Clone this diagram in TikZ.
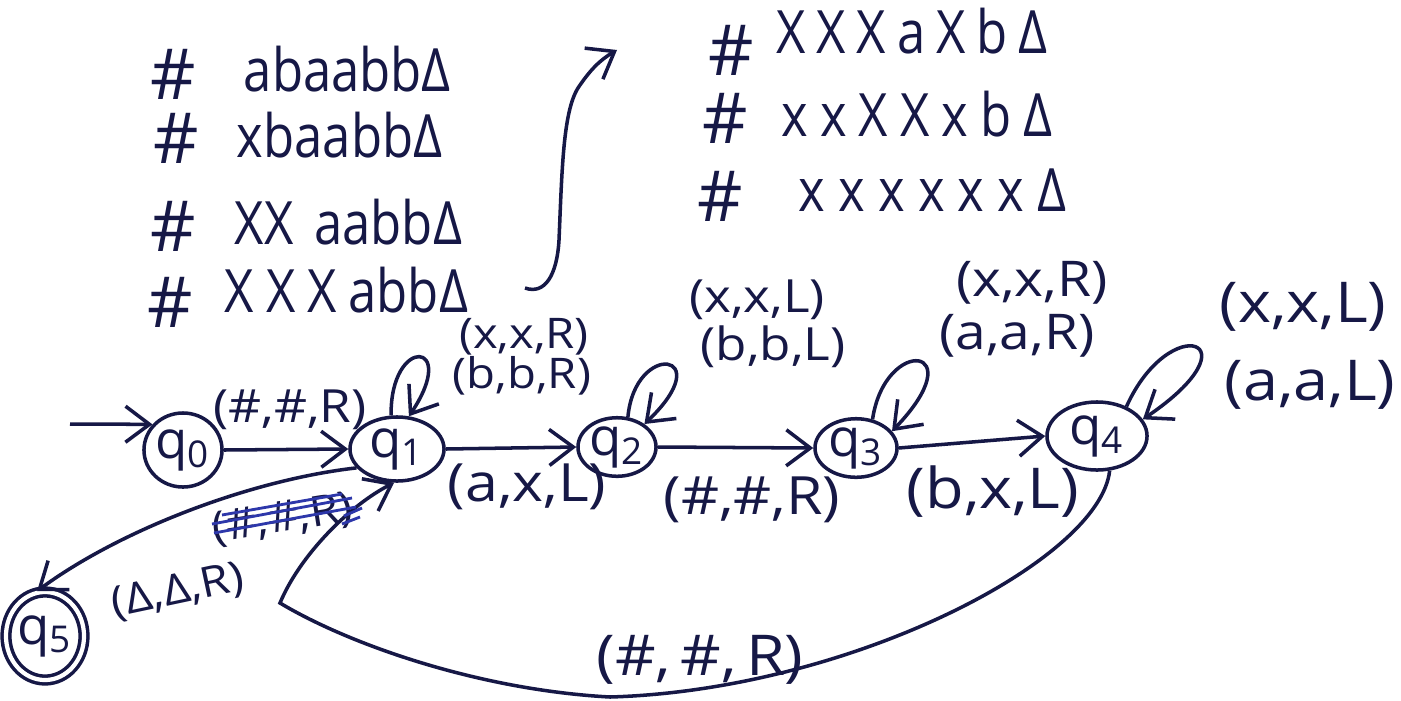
\documentclass[tikz,border=0pt]{standalone}
\usepackage{fontspec}
\setmainfont{Open Sans}
\newfontfamily\tapefont[FakeStretch=0.85]{Open Sans}
\newfontfamily\labfont[FakeStretch=1.12]{Open Sans}
\usetikzlibrary{shapes.geometric,arrows.meta}
\definecolor{ink}{RGB}{22,24,70}
\definecolor{scrib}{RGB}{45,55,170}
\newcommand\trn[3]{(#1,#2,#3)}
\newcommand\qs[1]{q\textsubscript{#1}}
\begin{document}
\begin{tikzpicture}[x=0.01cm,y=-0.01cm,line width=1pt,color=ink,
  state/.style={ellipse,draw=ink,line width=1pt,inner sep=0pt,font=\fontsize{15}{15}\selectfont},
  arr/.style={draw=ink,line width=1pt,-{Straight Barb[length=2.4mm,width=3.6mm]}},
  lab/.style={text=ink,inner sep=0pt,font=\labfont\fontsize{#1}{#1}\selectfont},
  lab/.default=14,
  tapetxt/.style={text=ink,inner sep=0pt,anchor=base west,font=\tapefont\fontsize{17}{17}\selectfont},
  hashmark/.style={text=ink,inner sep=0pt,font=\fontsize{20}{20}\selectfont},
  scribble/.style={draw=scrib,line width=0.8pt}]
\fill[white] (0,0) rectangle (1401,700);
\useasboundingbox (0,0) rectangle (1401,700);

% tape contents, left column
\node[hashmark] (h1) at (173,74) {\#};
\node[tapetxt] (t1) at (242,91) {abaabbΔ};
\node[hashmark] (h2) at (176,138) {\#};
\node[tapetxt] (t2) at (235,157) {xbaabbΔ};
\node[hashmark] (h3) at (173,226) {\#};
\node[tapetxt] (t3) at (233,244) {XX\hspace{0.35em}aabbΔ};
\node[hashmark] (h4) at (170,302) {\#};
\node[tapetxt] (t4) at (223,312) {X\hspace{0.2em}X\hspace{0.2em}X\hspace{0.2em}abbΔ};

% tape contents, right column
\node[hashmark] (h5) at (731,50) {\#};
\node[tapetxt] (t5) at (775,53) {X\hspace{0.18em}X\hspace{0.18em}X\hspace{0.18em}a\hspace{0.18em}X\hspace{0.18em}b\hspace{0.18em}Δ};
\node[hashmark] (h6) at (725,118) {\#};
\node[tapetxt] (t6) at (780,136) {x\hspace{0.2em}x\hspace{0.2em}X\hspace{0.2em}X\hspace{0.2em}x\hspace{0.2em}b\hspace{0.2em}Δ};
\node[hashmark] (h7) at (720,196) {\#};
\node[tapetxt] (t7) at (797,211) {x\hspace{0.22em}x\hspace{0.22em}x\hspace{0.22em}x\hspace{0.22em}x\hspace{0.22em}x\hspace{0.22em}Δ};

% arrow between the columns
\coordinate (ta) at (525,288);
\coordinate (tb) at (559,240);
\coordinate (tc) at (578,88);
\coordinate (te) at (617,50);
\draw[arr] (ta) .. controls (545,295) and (557,275) .. (tb)
  .. controls (562,170) and (563,112) .. (tc)
  .. controls (590,70) and (600,60) .. (te);

% states
\node[state,minimum width=0.72cm,minimum height=0.74cm] (q0) at (183,450) {\qs0};
\node[state,minimum width=0.94cm,minimum height=0.64cm] (q1) at (397,449) {\qs1};
\node[state,minimum width=0.76cm,minimum height=0.58cm] (q2) at (617,447) {\qs2};
\node[state,minimum width=0.82cm,minimum height=0.57cm] (q3) at (856,448) {\qs3};
\node[state,minimum width=1.0cm,minimum height=0.68cm] (q4) at (1097,436) {\qs4};
\node[state,double,double distance=1.2pt,minimum width=0.68cm,minimum height=0.88cm] (q5) at (45,636) {\qs5};

% start arrow
\coordinate (st) at (70,424);
\draw[arr] (st) -- (q0.140);

% transitions
\draw[arr] (q0.east) -- (q1.west);
\node[lab=13] (l01) at (290,410) {\trn{\#}{\#}{R}};

\draw[arr] (q1.100) .. controls (390,335) and (460,340) .. (q1.70);
\node[lab=12] (l11a) at (524,337) {\trn{x}{x}{R}};
\node[lab=12] (l11b) at (522,376) {\trn{b}{b}{R}};

\draw[arr] (q1.east) -- (q2.west);
\node[lab=15] (l12) at (527,487) {\trn{a}{x}{L}};

\draw[arr] (q2.70) .. controls (635,340) and (720,352) .. (q2.40);
\node[lab=13] (l22a) at (757,300) {\trn{x}{x}{L}};
\node[lab=13] (l22b) at (773,347) {\trn{b}{b}{L}};

\draw[arr] (q2.east) -- (q3.west);
\node[lab=15] (l23) at (752,500) {\trn{\#}{\#}{R}};

\draw[arr] (q3.60) .. controls (885,335) and (975,345) .. (q3.25);
\node[lab=14] (l33a) at (1032,283) {\trn{x}{x}{R}};
\node[lab=14] (l33b) at (1017,336) {\trn{a}{a}{R}};

\draw[arr] (q3.east) -- (q4.west);
\node[lab=16] (l34) at (993,492) {\trn{b}{x}{L}};

\draw[arr] (q4.45) .. controls (1170,310) and (1260,340) .. (q4.20);
\node[lab=16] (l44a) at (1303,307) {\trn{x}{x}{L}};
\node[lab=16] (l44b) at (1310,385) {\trn{a}{a}{L}};

\coordinate (b1) at (610,697);
\coordinate (corner) at (280,603);
\draw[arr] (q4.-70) .. controls (1100,560) and (850,690) .. (b1)
  .. controls (480,690) and (350,645) .. (corner)
  .. controls (300,555) and (350,505) .. (q1.-95);
\node[lab=16] (l41) at (700,660) {(\#,\,\#,\,R)};

% crossed-out label
\node[lab=12,rotate=9] (lx) at (283,520) {\trn{\#}{\#}{R}};
\draw[scribble] (212,524) -- (352,498);
\draw[scribble] (214,533) -- (356,507);
\draw[scribble] (222,515) -- (342,494);
\draw[scribble] (344,516) -- (362,508);
\draw[scribble] (342,524) -- (360,517);

\draw[arr] (q1.205) .. controls (250,480) and (120,530) .. (q5.100);
\node[lab=12,rotate=12] (l15) at (178,592) {\trn{Δ}{Δ}{R}};
\end{tikzpicture}
\end{document}
